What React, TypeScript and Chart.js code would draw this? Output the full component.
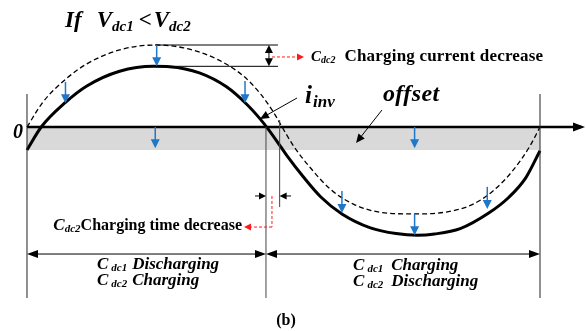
import React, { useEffect, useRef } from "react";
import { Chart, registerables } from "chart.js";

Chart.register(...registerables);

// Reference current without offset (dashed), phase in degrees
const refPhase = [0, 11, 27, 42, 65, 90, 110, 133, 152, 164, 173, 179, 187, 199, 213, 229, 248, 271, 293, 312, 327, 341, 353, 360];
const refCurrent = [0, 0.3, 0.58, 0.77, 0.94, 1.0, 0.965, 0.83, 0.62, 0.4, 0.18, 0, -0.23, -0.5, -0.76, -0.94, -1.04, -1.06, -1.04, -0.95, -0.78, -0.53, -0.23, 0];

// Inverter current i_inv with the negative offset (solid)
const invPhase = [0, 10, 27, 42, 65, 89, 100, 121, 140, 154, 164, 169, 178, 182, 194, 206, 221, 241, 259, 274, 286, 304, 324, 338, 350, 360];
const invCurrent = [-0.28, 0, 0.3, 0.5, 0.68, 0.74, 0.735, 0.66, 0.49, 0.28, 0.09, -0.02, -0.24, -0.34, -0.61, -0.85, -1.06, -1.23, -1.3, -1.32, -1.305, -1.24, -1.05, -0.86, -0.62, -0.29];

// DC offset band
const offsetPhase = [0, 360];
const offsetLevel = [-0.28, -0.28];

// Blue shift arrows: phase, start value, end value
const shiftPhase = [27, 91, 153, 90, 272, 221, 272, 323];
const shiftFrom = [0.55, 1.0, 0.56, 0, 0, -0.78, -1.06, -0.73];
const shiftTo = [0.29, 0.74, 0.29, -0.26, -0.26, -1.05, -1.32, -1.0];

// Zero crossings marking the half-cycle boundaries
const invZeroCross = 167.7;
const refZeroCross = 177.3;

const SERIF = '"Liberation Serif", "Times New Roman", serif';
const BLUE = "#1f77c9";
const RED = "#ff1a1a";

type Run = { t: string; f: string; dy?: number; dx?: number; ls?: number };

function rich(ctx: CanvasRenderingContext2D, x: number, y: number, runs: Run[], align: "left" | "right" | "center" = "left") {
  const c = ctx as any;
  let total = 0;
  for (const r of runs) {
    ctx.font = r.f;
    c.letterSpacing = `${r.ls || 0}px`;
    total += (r.dx || 0) + ctx.measureText(r.t).width;
  }
  let cx = align === "left" ? x : align === "right" ? x - total : x - total / 2;
  ctx.textAlign = "left";
  ctx.textBaseline = "alphabetic";
  for (const r of runs) {
    ctx.font = r.f;
    c.letterSpacing = `${r.ls || 0}px`;
    cx += r.dx || 0;
    ctx.fillText(r.t, cx, y + (r.dy || 0));
    cx += ctx.measureText(r.t).width;
  }
  c.letterSpacing = "0px";
}

function head(ctx: CanvasRenderingContext2D, tx: number, ty: number, fx: number, fy: number, len: number, half: number, color: string) {
  const a = Math.atan2(ty - fy, tx - fx);
  const bx = tx - len * Math.cos(a);
  const by = ty - len * Math.sin(a);
  ctx.fillStyle = color;
  ctx.beginPath();
  ctx.moveTo(tx, ty);
  ctx.lineTo(bx + half * Math.sin(a), by - half * Math.cos(a));
  ctx.lineTo(bx - half * Math.sin(a), by + half * Math.cos(a));
  ctx.closePath();
  ctx.fill();
}

function seg(ctx: CanvasRenderingContext2D, x1: number, y1: number, x2: number, y2: number, color: string, w: number, dash: number[] = []) {
  ctx.strokeStyle = color;
  ctx.lineWidth = w;
  ctx.setLineDash(dash);
  ctx.beginPath();
  ctx.moveTo(x1, y1);
  ctx.lineTo(x2, y2);
  ctx.stroke();
  ctx.setLineDash([]);
}

function arrow(ctx: CanvasRenderingContext2D, x1: number, y1: number, x2: number, y2: number, color: string, w: number, len: number, half: number, dash: number[] = []) {
  const a = Math.atan2(y2 - y1, x2 - x1);
  seg(ctx, x1, y1, x2 - (len - 1) * Math.cos(a), y2 - (len - 1) * Math.sin(a), color, w, dash);
  head(ctx, x2, y2, x1, y1, len, half, color);
}

const annotate = {
  id: "annotate",
  afterDatasetsDraw(chart: any) {
    const { ctx } = chart;
    const X = (d: number) => chart.scales.x.getPixelForValue(d);
    const Y = (v: number) => chart.scales.y.getPixelForValue(v);
    ctx.save();

    // time axis with arrow
    seg(ctx, X(0), Y(0), X(389), Y(0), "#000", 2.6);
    head(ctx, X(391.6), Y(0), X(0), Y(0), 12, 4.5, "#000");

    // boundary lines
    const top = 0.402, bottom = -2.085;
    seg(ctx, X(0), Y(top), X(0), Y(bottom), "#222", 1);
    seg(ctx, X(360), Y(top), X(360), Y(bottom), "#222", 1);
    seg(ctx, X(invZeroCross), Y(0), X(invZeroCross), Y(bottom), "#444", 1);
    seg(ctx, X(refZeroCross), Y(0.085), X(refZeroCross), Y(-0.976), "#444", 1);

    // peak reduction guides
    seg(ctx, X(90), Y(1.0), X(176.1), Y(1.0), "#000", 1);
    seg(ctx, X(90), Y(0.74), X(176.1), Y(0.74), "#000", 1);
    const dm = (1.0 + 0.74) / 2;
    arrow(ctx, X(169.8), Y(dm), X(169.8), Y(1.0), "#000", 1, 8, 4);
    arrow(ctx, X(169.8), Y(dm), X(169.8), Y(0.74), "#000", 1, 8, 4);
    arrow(ctx, X(171.9), Y(0.854), X(194.4), Y(0.854), RED, 1, 7, 3.5, [3, 2]);

    // blue shift arrows
    for (let i = 0; i < shiftPhase.length; i++) {
      arrow(ctx, X(shiftPhase[i]), Y(shiftFrom[i]), X(shiftPhase[i]), Y(shiftTo[i]), BLUE, 1.5, 9, 4.5);
    }

    // pointers
    arrow(ctx, X(189.5), Y(0.354), X(163.5), Y(0.098), "#000", 1, 9, 4);
    arrow(ctx, X(249.1), Y(0.207), X(230.9), Y(-0.195), "#000", 1, 9, 4);

    // charging time decrease markers
    const yt = -0.841;
    arrow(ctx, X(160), Y(yt), X(invZeroCross), Y(yt), "#000", 1, 7, 3.5);
    arrow(ctx, X(185.3), Y(yt), X(refZeroCross), Y(yt), "#000", 1, 7, 3.5);
    seg(ctx, X(171.9), Y(yt), X(171.9), Y(-1.22), RED, 1, [3, 2]);
    arrow(ctx, X(171.9), Y(-1.22), X(152.3), Y(-1.22), RED, 1, 7, 3.5, [3, 2]);

    // half-cycle dimension arrows
    const yd = -1.549;
    arrow(ctx, X(84), Y(yd), X(0), Y(yd), "#000", 1, 11, 4);
    arrow(ctx, X(84), Y(yd), X(invZeroCross), Y(yd), "#000", 1, 11, 4);
    arrow(ctx, X(264), Y(yd), X(invZeroCross), Y(yd), "#000", 1, 11, 4);
    arrow(ctx, X(264), Y(yd), X(360), Y(yd), "#000", 1, 11, 4);

    // text
    ctx.fillStyle = "#000";
    const bi = (s: number) => `italic bold ${s}px ${SERIF}`;
    const b = (s: number) => `bold ${s}px ${SERIF}`;

    rich(ctx, X(26.7), Y(1.22), [
      { t: "If", f: bi(23) },
      { t: "V", f: bi(23), dx: 15 },
      { t: "dc1", f: bi(15), dy: 4 },
      { t: "<", f: b(23), dx: 5 },
      { t: "V", f: bi(23), dx: 2 },
      { t: "dc2", f: bi(15), dy: 4 },
    ]);

    rich(ctx, X(-2.8), Y(-0.134), [{ t: "0", f: bi(20) }], "right");

    rich(ctx, X(199.3), Y(0.805), [
      { t: "C", f: bi(15) },
      { t: "dc2", f: bi(10), dy: 2 },
      { t: "Charging current decrease", f: b(17), dx: 9, ls: 0.2 },
    ]);

    rich(ctx, X(195.1), Y(0.293), [
      { t: "i", f: bi(25) },
      { t: "inv", f: bi(17), dy: 4, dx: 1 },
    ]);

    rich(ctx, X(249.8), Y(0.317), [{ t: "offset", f: bi(24), ls: 0.4 }]);

    rich(ctx, X(150.9), Y(-1.256), [
      { t: "C", f: bi(17) },
      { t: "dc2", f: bi(11), dy: 2 },
      { t: "Charging time decrease", f: b(16) },
    ], "right");

    const block = (x: number, y1: number, y2: number, w1: string, w2: string, gap: number) => {
      rich(ctx, X(x), Y(y1), [
        { t: "C", f: bi(17) },
        { t: "dc1", f: bi(11), dy: 2, dx: 3 },
        { t: w1, f: bi(17), dx: gap },
      ]);
      rich(ctx, X(x), Y(y2), [
        { t: "C", f: bi(17) },
        { t: "dc2", f: bi(11), dy: 2, dx: 3 },
        { t: w2, f: bi(17), dx: gap },
      ]);
    };
    block(49.1, -1.732, -1.927, "Discharging", "Charging", 5);
    block(228.8, -1.744, -1.939, "Charging", "Discharging", 8);

    rich(ctx, X(181.8), Y(-2.415), [{ t: "(b)", f: b(16) }], "center");

    ctx.restore();
  },
};

export default function App() {
  const ref = useRef<HTMLCanvasElement>(null);

  useEffect(() => {
    if (!ref.current) return;
    const chart = new Chart(ref.current, {
      type: "line",
      data: {
        datasets: [
          {
            label: "offset",
            data: offsetPhase.map((p, i) => ({ x: p, y: offsetLevel[i] })),
            borderColor: "rgba(0,0,0,0)",
            borderWidth: 0,
            backgroundColor: "#d9d9d9",
            fill: "origin",
            pointRadius: 0,
            order: 3,
          },
          {
            label: "reference",
            data: refPhase.map((p, i) => ({ x: p, y: refCurrent[i] })),
            borderColor: "#000",
            borderWidth: 1.3,
            borderDash: [5, 3],
            cubicInterpolationMode: "monotone",
            pointRadius: 0,
            fill: false,
            order: 2,
          },
          {
            label: "i_inv",
            data: invPhase.map((p, i) => ({ x: p, y: invCurrent[i] })),
            borderColor: "#000",
            borderWidth: 3,
            cubicInterpolationMode: "monotone",
            pointRadius: 0,
            fill: false,
            order: 1,
          },
        ],
      },
      options: {
        responsive: false,
        animation: false,
        devicePixelRatio: 1,
        layout: { padding: 0 },
        plugins: { legend: { display: false }, tooltip: { enabled: false }, title: { display: false } },
        scales: {
          x: { type: "linear", min: -18.947, max: 392.28, display: false },
          y: { type: "linear", min: -2.4878, max: 1.5488, display: false },
        },
      },
      plugins: [annotate],
    });
    return () => chart.destroy();
  }, []);

  return (
    <div style={{ position: "absolute", left: 0, top: 0, width: 586, height: 331, background: "#fff" }}>
      <canvas ref={ref} width={586} height={331} style={{ display: "block" }} />
    </div>
  );
}
